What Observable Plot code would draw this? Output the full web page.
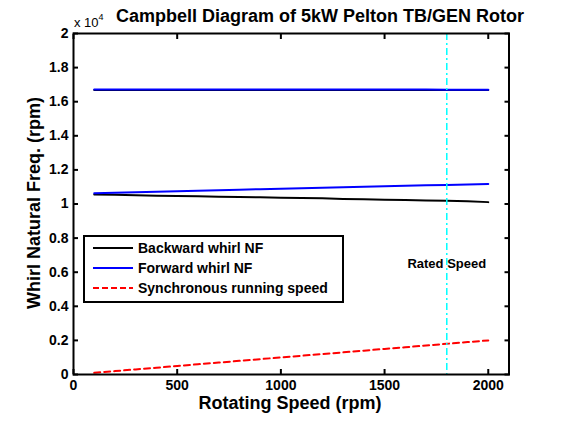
<!DOCTYPE html>
<html><head><meta charset="utf-8">
<script src="https://cdn.jsdelivr.net/npm/d3@7"></script>
<script src="https://cdn.jsdelivr.net/npm/@observablehq/plot@0.6"></script>
<style>body{margin:0;background:#fff;} svg{display:block;}</style>
</head><body><div id="chart"></div>
<script>
const speed = [100,200,300,400,500,600,700,800,900,1000,1100,1200,1300,1400,1500,1600,1700,1800,1900,2000];
const backward1 = [10560,10540,10510,10490,10470,10450,10430,10410,10390,10370,10350,10330,10300,10280,10250,10230,10210,10190,10160,10110];
const forward1  = [10630,10660,10690,10720,10750,10780,10810,10840,10870,10900,10920,10950,10980,11010,11040,11070,11100,11120,11150,11180];
const backward2 = [16690,16690,16690,16690,16690,16690,16690,16690,16690,16690,16690,16680,16680,16680,16680,16680,16680,16680,16680,16680];
const forward2  = [16710,16710,16710,16710,16710,16710,16710,16710,16710,16710,16710,16710,16710,16710,16710,16710,16710,16700,16700,16700];
const synchronous = [100,200,300,400,500,600,700,800,900,1000,1100,1200,1300,1400,1500,1600,1700,1800,1900,2000];
const ratedSpeed = 1800;
const xTicks = [0,500,1000,1500,2000];
const yTicks = [0,2000,4000,6000,8000,10000,12000,14000,16000,18000,20000];
const legendLabels = ["Backward whirl NF","Forward whirl NF","Synchronous running speed"];
const legendColors = ["#000000","#0000ff","#ff0000"];

const F = "'Liberation Sans', Arial, sans-serif";
const toRows = (ys) => speed.map((s,i)=>({x:s,y:ys[i]}));

const plot = Plot.plot({
  width: 562, height: 422,
  marginLeft: 73, marginRight: 53.5, marginTop: 33, marginBottom: 48,
  style: {fontFamily: F, fontSize: "14px", fontWeight: "bold", background: "#fff", color: "#000"},
  x: {domain: [0, 2100], ticks: xTicks, label: null},
  y: {domain: [0, 20000], ticks: yTicks, label: null},
  marks: [
    Plot.line(toRows(backward1), {x:"x", y:"y", stroke:"#000", strokeWidth:2}),
    Plot.line(toRows(forward1), {x:"x", y:"y", stroke:"#0000ff", strokeWidth:2}),
    Plot.line(toRows(backward2), {x:"x", y:"y", stroke:"#000", strokeWidth:2}),
    Plot.line(toRows(forward2), {x:"x", y:"y", stroke:"#0000ff", strokeWidth:2}),
    Plot.line(toRows(synchronous), {x:"x", y:"y", stroke:"#ff0000", strokeWidth:2, strokeDasharray:"6,4"}),
    Plot.ruleX([ratedSpeed], {stroke:"#00ffff", strokeWidth:1.5, strokeDasharray:"7,3,2,3"}),
    Plot.text([{x:ratedSpeed, y:6500}], {x:"x", y:"y", text:()=>"Rated Speed", fontSize:13, fontWeight:"bold", fill:"#000"}),
    Plot.axisX({ticks: xTicks, tickSize: -5, tickPadding: 11, tickFormat: d=>String(d), fontSize: 14, fontWeight:"bold", strokeWidth:2, label:null}),
    Plot.axisX({anchor:"top", ticks: xTicks, tickSize: -5, tickFormat: ()=>"", strokeWidth:2, label:null}),
    Plot.axisY({ticks: yTicks, tickSize: -5, tickPadding: 10, tickFormat: d=>String(d/10000), fontSize: 14, fontWeight:"bold", strokeWidth:2, label:null}),
    Plot.axisY({anchor:"right", ticks: yTicks, tickSize: -5, tickFormat: ()=>"", strokeWidth:2, label:null}),
    Plot.frame({stroke:"#000", strokeWidth:2})
  ]
});

const svg = d3.select(plot);
// Title
svg.append("text").attr("x", 320).attr("y", 22).attr("text-anchor","middle")
  .attr("font-family", F).attr("font-size", 18).attr("font-weight","bold")
  .text("Campbell Diagram of 5kW Pelton TB/GEN Rotor");
// exponent label
const ex = svg.append("text").attr("x", 74).attr("y", 27).attr("text-anchor","start")
  .attr("font-family", F).attr("font-size", 13).attr("font-weight","normal");
ex.append("tspan").text("x 10");
ex.append("tspan").attr("dy", -7).attr("font-size", 9).text("4");
// axis labels
svg.append("text").attr("x", 290).attr("y", 409).attr("text-anchor","middle")
  .attr("font-family", F).attr("font-size", 18).attr("font-weight","bold")
  .text("Rotating Speed (rpm)");
svg.append("text").attr("transform","translate(40,203) rotate(-90)").attr("text-anchor","middle")
  .attr("font-family", F).attr("font-size", 18).attr("font-weight","bold")
  .text("Whirl Natural Freq. (rpm)");
// legend
const lg = svg.append("g");
lg.append("rect").attr("x",84).attr("y",236).attr("width",259).attr("height",66)
  .attr("fill","#fff").attr("stroke","#000").attr("stroke-width",2);
legendLabels.forEach((lab,i)=>{
  const yy = 248 + i*20;
  lg.append("line").attr("x1",93).attr("x2",133).attr("y1",yy).attr("y2",yy)
    .attr("stroke",legendColors[i]).attr("stroke-width",2)
    .attr("stroke-dasharray", i===2 ? "6,3" : null);
  lg.append("text").attr("x",138).attr("y",yy+5).attr("text-anchor","start")
    .attr("font-family",F).attr("font-size",14)
    .attr("font-weight","bold").text(lab);
});
document.getElementById("chart").appendChild(plot);
</script></body></html>
